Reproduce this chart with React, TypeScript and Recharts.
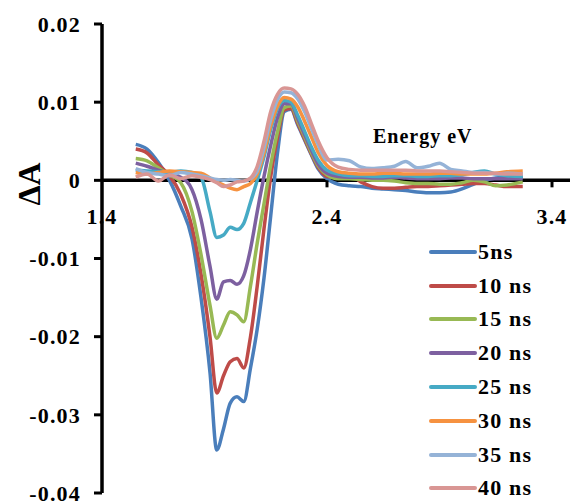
import React from "react";
import { Line, LineChart, ReferenceLine, XAxis, YAxis } from "recharts";

// photon energy (eV) grid, shared by every trace
const energy = [
  1.55, 1.6, 1.65, 1.7, 1.75, 1.8, 1.84, 1.88, 1.91, 1.94, 1.97, 2.0, 2.03, 2.06,
  2.09, 2.12, 2.15, 2.18, 2.21, 2.24, 2.27, 2.3, 2.33, 2.36, 2.4, 2.45, 2.5, 2.55,
  2.6, 2.65, 2.7, 2.75, 2.8, 2.85, 2.9, 2.95, 3.0, 3.05, 3.1, 3.15, 3.2, 3.27,
];

// ΔA per delay
const ns5 = [
  0.0046, 0.004, 0.0023, 0.0, -0.0033, -0.0075, -0.015, -0.0246, -0.0345, -0.0318,
  -0.0285, -0.0277, -0.0283, -0.024, -0.019, -0.0125, -0.0045, 0.0035, 0.0088, 0.0091,
  0.0071, 0.0052, 0.0033, 0.0015, 0.0002, -0.0005, -0.0007, -0.0008, -0.001, -0.0011,
  -0.0012, -0.0013, -0.0015, -0.0016, -0.0016, -0.0015, -0.0011, -0.0005, 0.0, 0.0003,
  0.0004, 0.0004,
];
const ns10 = [
  0.004, 0.0035, 0.002, 0.0006, -0.0018, -0.006, -0.012, -0.02, -0.0272, -0.025,
  -0.0232, -0.0228, -0.024, -0.02, -0.0135, -0.0062, 0.0005, 0.0055, 0.009, 0.0092,
  0.0073, 0.0053, 0.0034, 0.0017, 0.0005, 0.0004, 0.0007, -0.0002, -0.0008, -0.001,
  -0.001, -0.0009, -0.0008, -0.0008, -0.0007, -0.0006, -0.0005, -0.0004, -0.0004,
  -0.0006, -0.0008, -0.0008,
];
const ns15 = [
  0.0028, 0.0025, 0.0016, 0.0007, -0.0003, -0.004, -0.0095, -0.016, -0.0202, -0.0185,
  -0.0168, -0.0172, -0.0181, -0.0135, -0.008, -0.003, 0.002, 0.0062, 0.0093, 0.0095,
  0.0076, 0.0056, 0.0036, 0.0019, 0.0007, 0.0002, 0.0002, 0.0001, 0.0, 0.0, -0.0001,
  -0.0003, -0.0004, -0.0004, -0.0005, -0.0005, -0.0003, 0.0, -0.0002, -0.0007, -0.0006,
  -0.0002,
];
const ns20 = [
  0.0022, 0.0018, 0.0013, 0.0008, 0.0004, -0.0012, -0.005, -0.011, -0.0152, -0.013,
  -0.0128, -0.0133, -0.0122, -0.0088, -0.004, 0.0005, 0.0045, 0.008, 0.0098, 0.0098,
  0.0079, 0.0059, 0.0039, 0.0021, 0.0009, 0.0005, 0.0004, 0.0004, 0.0003, 0.0003,
  0.0004, 0.0003, 0.0002, 0.0002, 0.0002, 0.0003, 0.0003, 0.0002, 0.0002, 0.0002,
  0.0002, 0.0002,
];
const ns25 = [
  0.0013, 0.0012, 0.0011, 0.001, 0.0012, 0.001, 0.0004, -0.004, -0.0073, -0.007,
  -0.006, -0.0063, -0.0055, -0.0028, 0.0, 0.003, 0.0065, 0.0092, 0.0102, 0.01, 0.0083,
  0.0063, 0.0043, 0.0026, 0.0013, 0.0008, 0.0006, 0.0006, 0.0005, 0.0005, 0.0006,
  0.0006, 0.0005, 0.0005, 0.0006, 0.0006, 0.0007, 0.001, 0.0012, 0.0008, 0.0006, 0.0005,
];
const ns30 = [
  0.001, 0.0008, 0.001, 0.0012, 0.0011, 0.001, 0.0009, 0.0003, -0.0002, -0.0006,
  -0.001, -0.0012, -0.0008, -0.0004, 0.0008, 0.0035, 0.007, 0.0095, 0.0106, 0.0104,
  0.0094, 0.0076, 0.0056, 0.0036, 0.0019, 0.0011, 0.0009, 0.0008, 0.0008, 0.0009,
  0.0009, 0.0008, 0.0008, 0.0008, 0.0009, 0.0009, 0.0008, 0.0008, 0.0008, 0.0009,
  0.0011, 0.0012,
];
const ns35 = [
  0.0015, 0.001, 0.0008, 0.0006, 0.001, 0.0008, 0.0006, 0.0003, 0.0001, 0.0, 0.0001,
  0.0, -0.0001, 0.0002, 0.0012, 0.0042, 0.0078, 0.0103, 0.0113, 0.0112, 0.0104, 0.0088,
  0.0067, 0.0046, 0.0026, 0.0027, 0.0025, 0.0017, 0.0015, 0.0016, 0.0018, 0.0024,
  0.0016, 0.0018, 0.0022, 0.0014, 0.0012, 0.001, 0.001, 0.0008, 0.0009, 0.0008,
];
const ns40 = [
  0.0004, 0.0008, -0.0001, 0.0007, 0.0002, 0.0006, 0.0004, 0.0001, -0.0003, -0.0008,
  -0.0006, -0.0002, -0.0001, 0.0003, 0.0018, 0.005, 0.0088, 0.011, 0.0118, 0.0117,
  0.011, 0.0095, 0.0073, 0.0051, 0.0029, 0.0017, 0.0014, 0.0013, 0.0013, 0.0013,
  0.0013, 0.0013, 0.0012, 0.0012, 0.0012, 0.0011, 0.001, 0.0009, 0.0009, 0.0009,
  0.0008, 0.0008,
];

const xTicks = [1.4, 2.4, 3.4];
const yTicks = [-0.04, -0.03, -0.02, -0.01, 0, 0.01, 0.02];

const series = [
  { key: "ns5", name: "5ns", color: "#4A7EBB", values: ns5 },
  { key: "ns10", name: "10 ns", color: "#BE4B48", values: ns10 },
  { key: "ns15", name: "15 ns", color: "#98B954", values: ns15 },
  { key: "ns20", name: "20 ns", color: "#7D60A0", values: ns20 },
  { key: "ns25", name: "25 ns", color: "#46AAC5", values: ns25 },
  { key: "ns30", name: "30 ns", color: "#F69240", values: ns30 },
  { key: "ns35", name: "35 ns", color: "#95B3D7", values: ns35 },
  { key: "ns40", name: "40 ns", color: "#D99694", values: ns40 },
];

const data = energy.map((e, i) => {
  const row: Record<string, number> = { energy: e };
  series.forEach((s) => (row[s.key] = s.values[i]));
  return row;
});

const W = 571;
const H = 502;
const TOP = 24;
const X_AXIS_H = 9;
const Y_MIN = -0.04;
const Y_MAX = 0.02;
const PLOT_H = H - TOP - X_AXIS_H;
const ZERO_Y = TOP + (PLOT_H * Y_MAX) / (Y_MAX - Y_MIN);

const FONT = "'Liberation Serif', 'Times New Roman', serif";

// x ticks sit on the zero line, not at the bottom of the plot
function EnergyTick(props: any) {
  const { x, payload } = props;
  return (
    <g>
      {payload.value !== 1.4 && (
        <line x1={x} x2={x} y1={ZERO_Y} y2={ZERO_Y + 7} stroke="#000" strokeWidth={3} />
      )}
      <text
        x={x}
        y={ZERO_Y + 44}
        textAnchor="middle"
        fontFamily={FONT}
        fontWeight={700}
        fontSize={22}
        letterSpacing={1.2}
        fill="#000"
      >
        {Number(payload.value).toFixed(1)}
      </text>
    </g>
  );
}

function DelayLegend() {
  return (
    <div style={{ position: "absolute", left: 428, top: 235 }}>
      {series.map((s) => (
        <div key={s.key} style={{ display: "flex", alignItems: "center", height: 33.8 }}>
          <svg width={50} height={10}>
            <line x1={3} x2={47} y1={5} y2={5} stroke={s.color} strokeWidth={4} strokeLinecap="round" />
          </svg>
          <span
            style={{
              fontFamily: FONT,
              fontWeight: 700,
              fontSize: 22,
              letterSpacing: 1.2,
              color: "#000",
              lineHeight: 1,
              whiteSpace: "pre",
            }}
          >
            {s.name}
          </span>
        </div>
      ))}
    </div>
  );
}

export default function App() {
  return (
    <div style={{ position: "absolute", left: 0, top: 0, width: W, height: H, background: "#fff" }}>
      <LineChart
        width={W}
        height={H}
        data={data}
        margin={{ top: TOP, right: 1, bottom: 0, left: 0 }}
      >
        <XAxis
          dataKey="energy"
          type="number"
          domain={[1.4, 3.48]}
          ticks={xTicks}
          interval={0}
          axisLine={false}
          tickLine={false}
          height={X_AXIS_H}
          tick={<EnergyTick />}
        />
        <YAxis
          type="number"
          domain={[Y_MIN, Y_MAX]}
          ticks={yTicks}
          interval={0}
          width={102}
          axisLine={{ stroke: "#000", strokeWidth: 3.5 }}
          tickLine={{ stroke: "#000", strokeWidth: 3 }}
          tickSize={8}
          tickMargin={13}
          tickFormatter={(v: number) => (v === 0 ? "0" : v.toFixed(2))}
          tick={{
            fontFamily: FONT,
            fontWeight: 700,
            fontSize: 22,
            letterSpacing: 1.2,
            fill: "#000",
          }}
        />
        <ReferenceLine y={0} stroke="#000" strokeWidth={3.5} />
        {series.map((s) => (
          <Line
            key={s.key}
            dataKey={s.key}
            name={s.name}
            type="monotone"
            stroke={s.color}
            strokeWidth={3.5}
            dot={false}
            isAnimationActive={false}
          />
        ))}
      </LineChart>
      <DelayLegend />
      <svg
        width={W}
        height={H}
        style={{ position: "absolute", left: 0, top: 0, pointerEvents: "none" }}
      >
        <text
          x={373}
          y={143}
          fontFamily={FONT}
          fontWeight={700}
          fontSize={20}
          letterSpacing={1}
          fill="#000"
        >
          Energy eV
        </text>
        <text
          transform="translate(40, 184) rotate(-90)"
          textAnchor="middle"
          fontFamily={FONT}
          fontWeight={700}
          fontSize={32}
          fill="#000"
        >
          ΔA
        </text>
      </svg>
    </div>
  );
}
